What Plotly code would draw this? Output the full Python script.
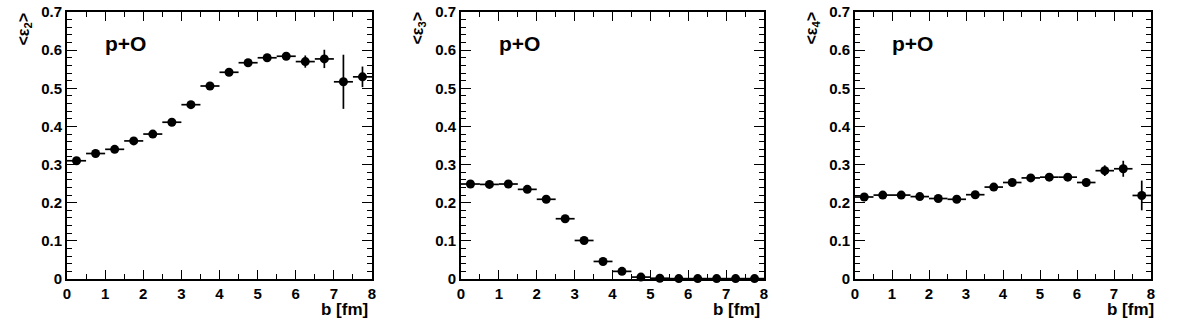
import plotly.graph_objects as go

b = [0.25, 0.75, 1.25, 1.75, 2.25, 2.75, 3.25, 3.75, 4.25, 4.75, 5.25, 5.75, 6.25, 6.75, 7.25, 7.75]
b_half_width = [0.25] * 16

eps2 = [0.310, 0.329, 0.340, 0.362, 0.380, 0.411, 0.457, 0.506, 0.542, 0.567, 0.580, 0.584, 0.570, 0.577, 0.517, 0.530]
eps2_err = [0.003, 0.003, 0.003, 0.003, 0.003, 0.003, 0.003, 0.004, 0.004, 0.005, 0.006, 0.008, 0.016, 0.024, 0.071, 0.027]

eps3 = [0.249, 0.248, 0.249, 0.235, 0.209, 0.158, 0.101, 0.046, 0.020, 0.005, 0.002, 0.001, 0.001, 0.001, 0.001, 0.001]
eps3_err = [0.002] * 16

eps4 = [0.215, 0.220, 0.220, 0.216, 0.211, 0.209, 0.221, 0.241, 0.253, 0.265, 0.267, 0.267, 0.253, 0.284, 0.289, 0.219]
eps4_err = [0.002, 0.002, 0.002, 0.002, 0.002, 0.002, 0.002, 0.003, 0.003, 0.004, 0.005, 0.006, 0.011, 0.014, 0.021, 0.039]

x_tick_vals = [0, 1, 2, 3, 4, 5, 6, 7, 8]
x_tick_labels = ["0", "1", "2", "3", "4", "5", "6", "7", "8"]
y_tick_vals = [0, 0.1, 0.2, 0.3, 0.4, 0.5, 0.6, 0.7]
y_tick_labels = ["0", "0.1", "0.2", "0.3", "0.4", "0.5", "0.6", "0.7"]

panels = [
    (eps2, eps2_err, "2"),
    (eps3, eps3_err, "3"),
    (eps4, eps4_err, "4"),
]

W, H = 1182, 332
x_domains_px = [(67, 372), (461, 764), (855, 1151)]
y_top_px, y_bot_px = 12, 279
ytitle_x_px = [24, 418, 812]

FONT = "Liberation Sans, Arial, Helvetica, sans-serif"

fig = go.Figure()
annotations = []
layout = dict(
    template="none",
    width=W, height=H, autosize=False,
    margin=dict(l=0, r=0, t=0, b=0, pad=0),
    paper_bgcolor="white", plot_bgcolor="white",
    showlegend=False,
    font=dict(family=FONT, color="black"),
)

for i, (vals, errs, n) in enumerate(panels):
    k = "" if i == 0 else str(i + 1)
    fig.add_trace(go.Scatter(
        x=b, y=vals,
        mode="markers",
        marker=dict(color="black", size=9, symbol="circle", line=dict(width=0)),
        error_x=dict(type="data", array=b_half_width, visible=True, width=0, thickness=1.7, color="black"),
        error_y=dict(type="data", array=errs, visible=True, width=0, thickness=1.7, color="black"),
        xaxis="x" + k, yaxis="y" + k,
        cliponaxis=False,
    ))
    x0, x1 = x_domains_px[i]
    layout["xaxis" + k] = dict(
        domain=[x0 / W, x1 / W], anchor="y" + k, automargin=False,
        range=[0, 8], tickmode="array", tickvals=x_tick_vals,
        ticktext=["<b>" + t + "</b>" for t in x_tick_labels],
        ticks="inside", ticklen=9, tickwidth=1.3, tickcolor="black",
        minor=dict(dtick=0.5, tick0=0, ticks="inside", ticklen=5, tickwidth=1.3, tickcolor="black", showgrid=False),
        showline=True, linecolor="black", linewidth=2, mirror="allticks",
        showgrid=False, zeroline=False,
        tickfont=dict(family=FONT, size=15, color="black"),
    )
    layout["yaxis" + k] = dict(
        domain=[(H - y_bot_px) / H, (H - y_top_px) / H], anchor="x" + k, automargin=False,
        range=[0, 0.7], tickmode="array", tickvals=y_tick_vals,
        ticktext=["<b>" + t + "</b>" for t in y_tick_labels],
        ticks="inside", ticklen=10, tickwidth=1.3, tickcolor="black",
        minor=dict(dtick=0.02, tick0=0, ticks="inside", ticklen=5, tickwidth=1.3, tickcolor="black", showgrid=False),
        showline=True, linecolor="black", linewidth=2, mirror="allticks",
        showgrid=False, zeroline=False,
        tickfont=dict(family=FONT, size=15, color="black"),
    )
    annotations.append(dict(
        text="<b>p+O</b>", x=0.95, y=0.618, xref="x" + k, yref="y" + k,
        xanchor="left", yanchor="middle", showarrow=False,
        font=dict(family=FONT, size=21, color="black"),
    ))
    annotations.append(dict(
        text="<b>b [fm]</b>", x=8, y=(H - 309) / H, xref="x" + k, yref="paper",
        xanchor="right", yanchor="middle", showarrow=False,
        xshift=(-2 if i < 2 else 5),
        font=dict(family=FONT, size=17, color="black"),
    ))
    annotations.append(dict(
        text="<b>&lt;ε<sub>" + n + "</sub>&gt;</b>", x=ytitle_x_px[i] / W, y=(H - 10) / H,
        xref="paper", yref="paper", xanchor="center", yanchor="top",
        textangle=-90, showarrow=False,
        font=dict(family=FONT, size=16, color="black"),
    ))

layout["annotations"] = annotations
fig.update_layout(**layout)
fig.write_html("out.html")
